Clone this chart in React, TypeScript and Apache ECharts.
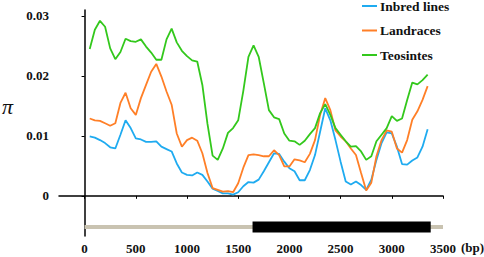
import React, { useEffect, useRef } from "react";
import * as echarts from "echarts";

const positions = [
  50, 100, 150, 200, 250, 300, 350, 400, 450, 500, 550, 600, 650, 700, 750, 800, 850, 900, 950, 1000,
  1050, 1100, 1150, 1200, 1250, 1300, 1350, 1400, 1450, 1500, 1550, 1600, 1650, 1700, 1750, 1800, 1850,
  1900, 1950, 2000, 2050, 2100, 2150, 2200, 2250, 2300, 2350, 2400, 2450, 2500, 2550, 2600, 2650, 2700,
  2750, 2800, 2850, 2900, 2950, 3000, 3050, 3100, 3150, 3200, 3250, 3300, 3350,
];

const inbred = [
  0.0099, 0.0097, 0.0093, 0.0088, 0.0081, 0.0079, 0.0102, 0.0126, 0.0113, 0.0096, 0.0094, 0.009, 0.009,
  0.0091, 0.0082, 0.0078, 0.0074, 0.0054, 0.0039, 0.0035, 0.0034, 0.0039, 0.0035, 0.0024, 0.0012, 0.0008,
  0.0004, 0.0004, 0.0002, 0.0006, 0.0016, 0.0023, 0.0022, 0.0027, 0.0041, 0.0056, 0.0071, 0.007, 0.0057,
  0.0046, 0.0041, 0.0026, 0.0026, 0.0043, 0.0068, 0.0107, 0.0146, 0.0126, 0.0093, 0.0057, 0.0024, 0.0019,
  0.0024, 0.0018, 0.001, 0.0027, 0.006, 0.0088, 0.0106, 0.0104, 0.0082, 0.0053, 0.0052, 0.0059, 0.0064,
  0.0082, 0.0111,
];

const landraces = [
  0.0129, 0.0126, 0.0125, 0.0121, 0.0117, 0.0121, 0.0155, 0.0172, 0.0146, 0.0135, 0.0163, 0.0185, 0.0207,
  0.022, 0.0199, 0.0174, 0.0152, 0.0104, 0.0082, 0.0093, 0.0097, 0.0092, 0.0071, 0.0038, 0.0013, 0.001,
  0.0007, 0.0008, 0.0006, 0.0021, 0.0047, 0.0068, 0.0069, 0.0068, 0.0066, 0.0066, 0.0076, 0.0068, 0.0049,
  0.0049, 0.0061, 0.0059, 0.0056, 0.007, 0.0093, 0.0135, 0.0163, 0.0143, 0.0109, 0.0099, 0.0091, 0.0079,
  0.0068, 0.0038, 0.0009, 0.0022, 0.0066, 0.0093, 0.0109, 0.0107, 0.0079, 0.0072, 0.0093, 0.0127, 0.0141,
  0.016, 0.0183,
];

const teosintes = [
  0.0245, 0.0277, 0.0292, 0.0282, 0.0246, 0.0228, 0.024, 0.0262, 0.0258, 0.0257, 0.0261, 0.0249, 0.0239,
  0.0227, 0.0227, 0.0261, 0.0279, 0.0256, 0.0242, 0.0233, 0.0226, 0.0224, 0.0185, 0.012, 0.0067, 0.006,
  0.0079, 0.0105, 0.0113, 0.0126, 0.0175, 0.0232, 0.0251, 0.0232, 0.0188, 0.0143, 0.0131, 0.0128, 0.0104,
  0.0092, 0.0091, 0.0085, 0.0092, 0.0103, 0.0113, 0.0138, 0.0153, 0.0135, 0.0113, 0.0102, 0.0091, 0.0082,
  0.0083, 0.0074, 0.006, 0.0066, 0.0091, 0.0102, 0.0113, 0.0133, 0.0125, 0.0129, 0.016, 0.0189, 0.0186,
  0.0193, 0.0202,
];

const xTicks = [0, 500, 1000, 1500, 2000, 2500, 3000, 3500];
const yTicks = [0, 0.01, 0.02, 0.03];
const geneRegion = [0, 3500];
const codingRegion = [1640, 3380];
const geneLevel = -0.0052;

const seriesNames = ["Inbred lines", "Landraces", "Teosintes"];
const seriesColors = ["#1fabf0", "#ff7f27", "#33c81c"];

const FONT = "Liberation Serif";

export default function App() {
  const ref = useRef<HTMLDivElement>(null);

  useEffect(() => {
    document.body.style.margin = "0";
    if (!ref.current) return;
    const chart = echarts.init(ref.current, null, { renderer: "svg" });
    const values = [inbred, landraces, teosintes];
    const lineSeries = seriesNames.map((name, i) => ({
      name,
      type: "line",
      data: positions.map((p, j) => [p, values[i][j]]),
      symbol: "none",
      lineStyle: { color: seriesColors[i], width: 1.8 },
      itemStyle: { color: seriesColors[i] },
      z: 3,
    }));
    chart.setOption({
      animation: false,
      backgroundColor: "#ffffff",
      textStyle: { fontFamily: FONT },
      grid: { left: 59, right: 41, top: 10, bottom: 21, containLabel: false },
      legend: {
        data: seriesNames.map((n) => ({ name: n, icon: "rect" })),
        orient: "vertical",
        left: 362,
        top: -1,
        padding: 0,
        itemWidth: 15,
        itemHeight: 2,
        itemGap: 10.5,
        textStyle: { fontFamily: FONT, fontWeight: "bold", fontSize: 13.5, color: "#111", padding: [0, 0, 0, -2] },
      },
      xAxis: {
        type: "value",
        min: -250,
        max: 3500,
        splitLine: { show: false },
        axisLine: { lineStyle: { color: "#000", width: 1.5 } },
        axisTick: { customValues: xTicks, length: 3, lineStyle: { color: "#000" } },
        axisLabel: {
          customValues: xTicks,
          formatter: (v: number) => String(v),
          fontFamily: FONT,
          fontWeight: "bold",
          fontSize: 13,
          color: "#111",
          margin: 6,
        },
      },
      yAxis: {
        type: "value",
        min: -0.0067,
        max: 0.031,
        splitLine: { show: false },
        axisLine: { show: true, lineStyle: { color: "#000", width: 1.5 } },
        axisTick: { show: true, customValues: yTicks, length: 3, lineStyle: { color: "#000" } },
        axisLabel: {
          customValues: yTicks,
          formatter: (v: number) => (v === 0 ? "0" : v.toFixed(2)),
          fontFamily: FONT,
          fontWeight: "bold",
          fontSize: 13,
          color: "#111",
          margin: 10,
        },
      },
      graphic: [
        {
          type: "text",
          left: 2,
          top: 95,
          style: { text: "π", fontFamily: FONT, fontStyle: "italic", fontSize: 22, fill: "#111" },
        },
        {
          type: "text",
          left: 461,
          top: 241,
          style: { text: "(bp)", fontFamily: FONT, fontWeight: "bold", fontSize: 13, fill: "#111" },
        },
      ],
      series: [
        {
          name: "gene",
          type: "line",
          data: geneRegion.map((x) => [x, geneLevel]),
          symbol: "none",
          lineStyle: { color: "#c9c3b1", width: 4, cap: "butt" },
          z: 1,
          silent: true,
        },
        {
          name: "coding",
          type: "line",
          data: codingRegion.map((x) => [x, geneLevel]),
          symbol: "none",
          lineStyle: { color: "#000000", width: 11, cap: "butt" },
          z: 2,
          silent: true,
        },
        ...lineSeries,
      ],
    });
    return () => chart.dispose();
  }, []);

  return <div ref={ref} style={{ width: 484, height: 257 }} />;
}
